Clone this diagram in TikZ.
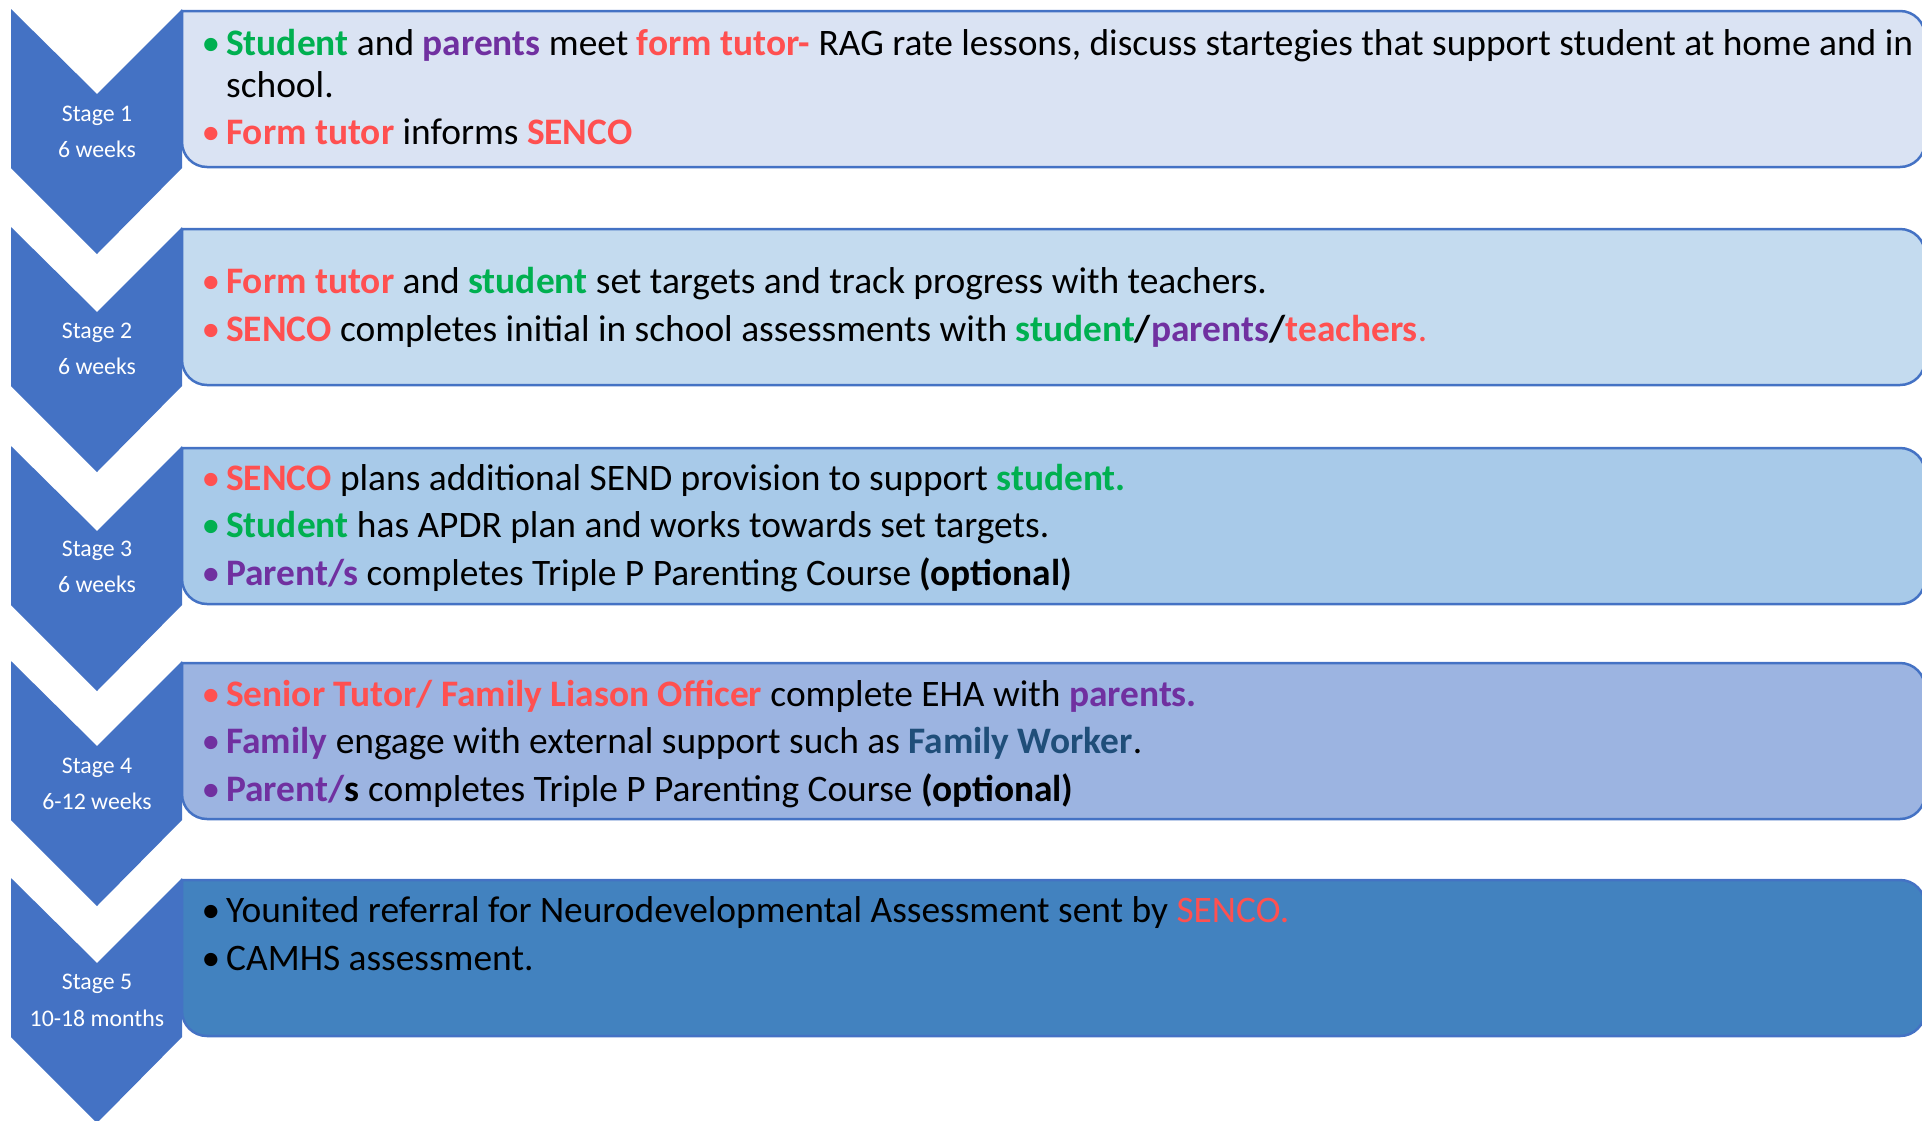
\documentclass[tikz,border=0pt]{standalone}
\usepackage{fontspec}
\setmainfont{Carlito}
\definecolor{chev}{HTML}{4472C4}
\definecolor{boxline}{HTML}{4472C4}
\definecolor{boxA}{HTML}{DAE3F3}
\definecolor{boxB}{HTML}{C4DBEF}
\definecolor{boxC}{HTML}{A8CAE9}
\definecolor{boxD}{HTML}{9CB4E1}
\definecolor{boxE}{HTML}{4282BF}
\definecolor{sgreen}{HTML}{00B050}
\definecolor{spurple}{HTML}{7030A0}
\definecolor{sred}{HTML}{FF5050}
\definecolor{sdblue}{HTML}{1F4E79}
\newcommand\cG[1]{\textcolor{sgreen}{\textbf{#1}}}
\newcommand\cP[1]{\textcolor{spurple}{\textbf{#1}}}
\newcommand\cR[1]{\textcolor{sred}{\textbf{#1}}}
\newcommand\cB[1]{\textcolor{sdblue}{\textbf{#1}}}
\tikzset{
  txt/.style={anchor=base west, inner sep=0pt, font=\fontsize{37.4}{44}\selectfont},
  bul/.style={anchor=base, inner sep=0pt, font=\fontsize{37.4}{44}\selectfont},
  lbl/.style={anchor=base, inner sep=0pt, text=white, font=\fontsize{23.8}{28}\selectfont},
  boxst/.style={draw=boxline, line width=2.5pt},
}
\begin{document}
\begin{tikzpicture}[x=1pt,y=-1pt]
\useasboundingbox (0,0) rectangle (1922,1120);
\foreach \i/\T/\col in {1/9/boxA, 2/227/boxB, 3/446/boxC, 4/661/boxD, 5/878/boxE} {
  \draw[boxst, fill=\col] (182,\T+2) [rounded corners=25pt] -- (1925,\T+2) -- (1925,\T+158) -- (182,\T+158) [sharp corners] -- cycle;
  \fill[chev] (11,\T) -- (97,\T+85) -- (182,\T) -- (182,\T+159) -- (97,\T+245) -- (11,\T+159) -- cycle;
}
% stage labels
\node[lbl] (l1a) at (97,121.5) {Stage 1};
\node[lbl] (l1b) at (97,157) {6 weeks};
\node[lbl] (l2a) at (97,338) {Stage 2};
\node[lbl] (l2b) at (97,374) {6 weeks};
\node[lbl] (l3a) at (97,556) {Stage 3};
\node[lbl] (l3b) at (97,592) {6 weeks};
\node[lbl] (l4a) at (97,773) {Stage 4};
\node[lbl] (l4b) at (97,809) {6-12 weeks};
\node[lbl] (l5a) at (97,989) {Stage 5};
\node[lbl] (l5b) at (97,1026) {10-18 months};
% stage 1
\node[bul, text=sgreen] (b11) at (211,55) {•};
\node[txt] (t11) at (226,55) {\cG{Student} and \cP{parents} meet \cR{form tutor-} RAG rate lessons, discuss startegies that support student at home and in};
\node[txt] (t11b) at (226,97) {school.};
\node[bul, text=sred] (b12) at (211,144) {•};
\node[txt] (t12) at (226,144) {\cR{Form tutor} informs \cR{SENCO}};
% stage 2
\node[bul, text=sred] (b21) at (211,293.5) {•};
\node[txt] (t21) at (226,293.5) {\cR{Form tutor} and \cG{student} set targets and track progress with teachers.};
\node[bul, text=sred] (b22) at (211,341.5) {•};
\node[txt] (t22) at (226,341.5) {\cR{SENCO} completes initial in school assessments with \cG{student}\textbf{/}\cP{parents}\textbf{/}\cR{teachers}\textcolor{sred}{.}};
% stage 3
\node[bul, text=sred] (b31) at (211,490.7) {•};
\node[txt] (t31) at (226,490.7) {\cR{SENCO} plans additional SEND provision to support \cG{student.}};
\node[bul, text=sgreen] (b32) at (211,537.7) {•};
\node[txt] (t32) at (226,537.7) {\cG{Student} has APDR plan and works towards set targets.};
\node[bul, text=spurple] (b33) at (211,585.7) {•};
\node[txt] (t33) at (226,585.7) {\cP{Parent/s} completes Triple P Parenting Course \textbf{(optional)}};
% stage 4
\node[bul, text=sred] (b41) at (211,706.5) {•};
\node[txt] (t41) at (226,706.5) {\cR{Senior Tutor/ Family Liason Officer} complete EHA with \cP{parents.}};
\node[bul, text=spurple] (b42) at (211,753.5) {•};
\node[txt] (t42) at (226,753.5) {\cP{Family} engage with external support such as \cB{Family Worker}.};
\node[bul, text=spurple] (b43) at (211,801) {•};
\node[txt] (t43) at (226,801) {\cP{Parent/}\textbf{s} completes Triple P Parenting Course \textbf{(optional)}};
% stage 5
\node[bul] (b51) at (211,922.5) {•};
\node[txt] (t51) at (226,922.5) {Younited referral for Neurodevelopmental Assessment sent by \textcolor{sred}{SENCO.}};
\node[bul] (b52) at (211,970.5) {•};
\node[txt] (t52) at (226,970.5) {CAMHS assessment.};
\end{tikzpicture}
\end{document}
